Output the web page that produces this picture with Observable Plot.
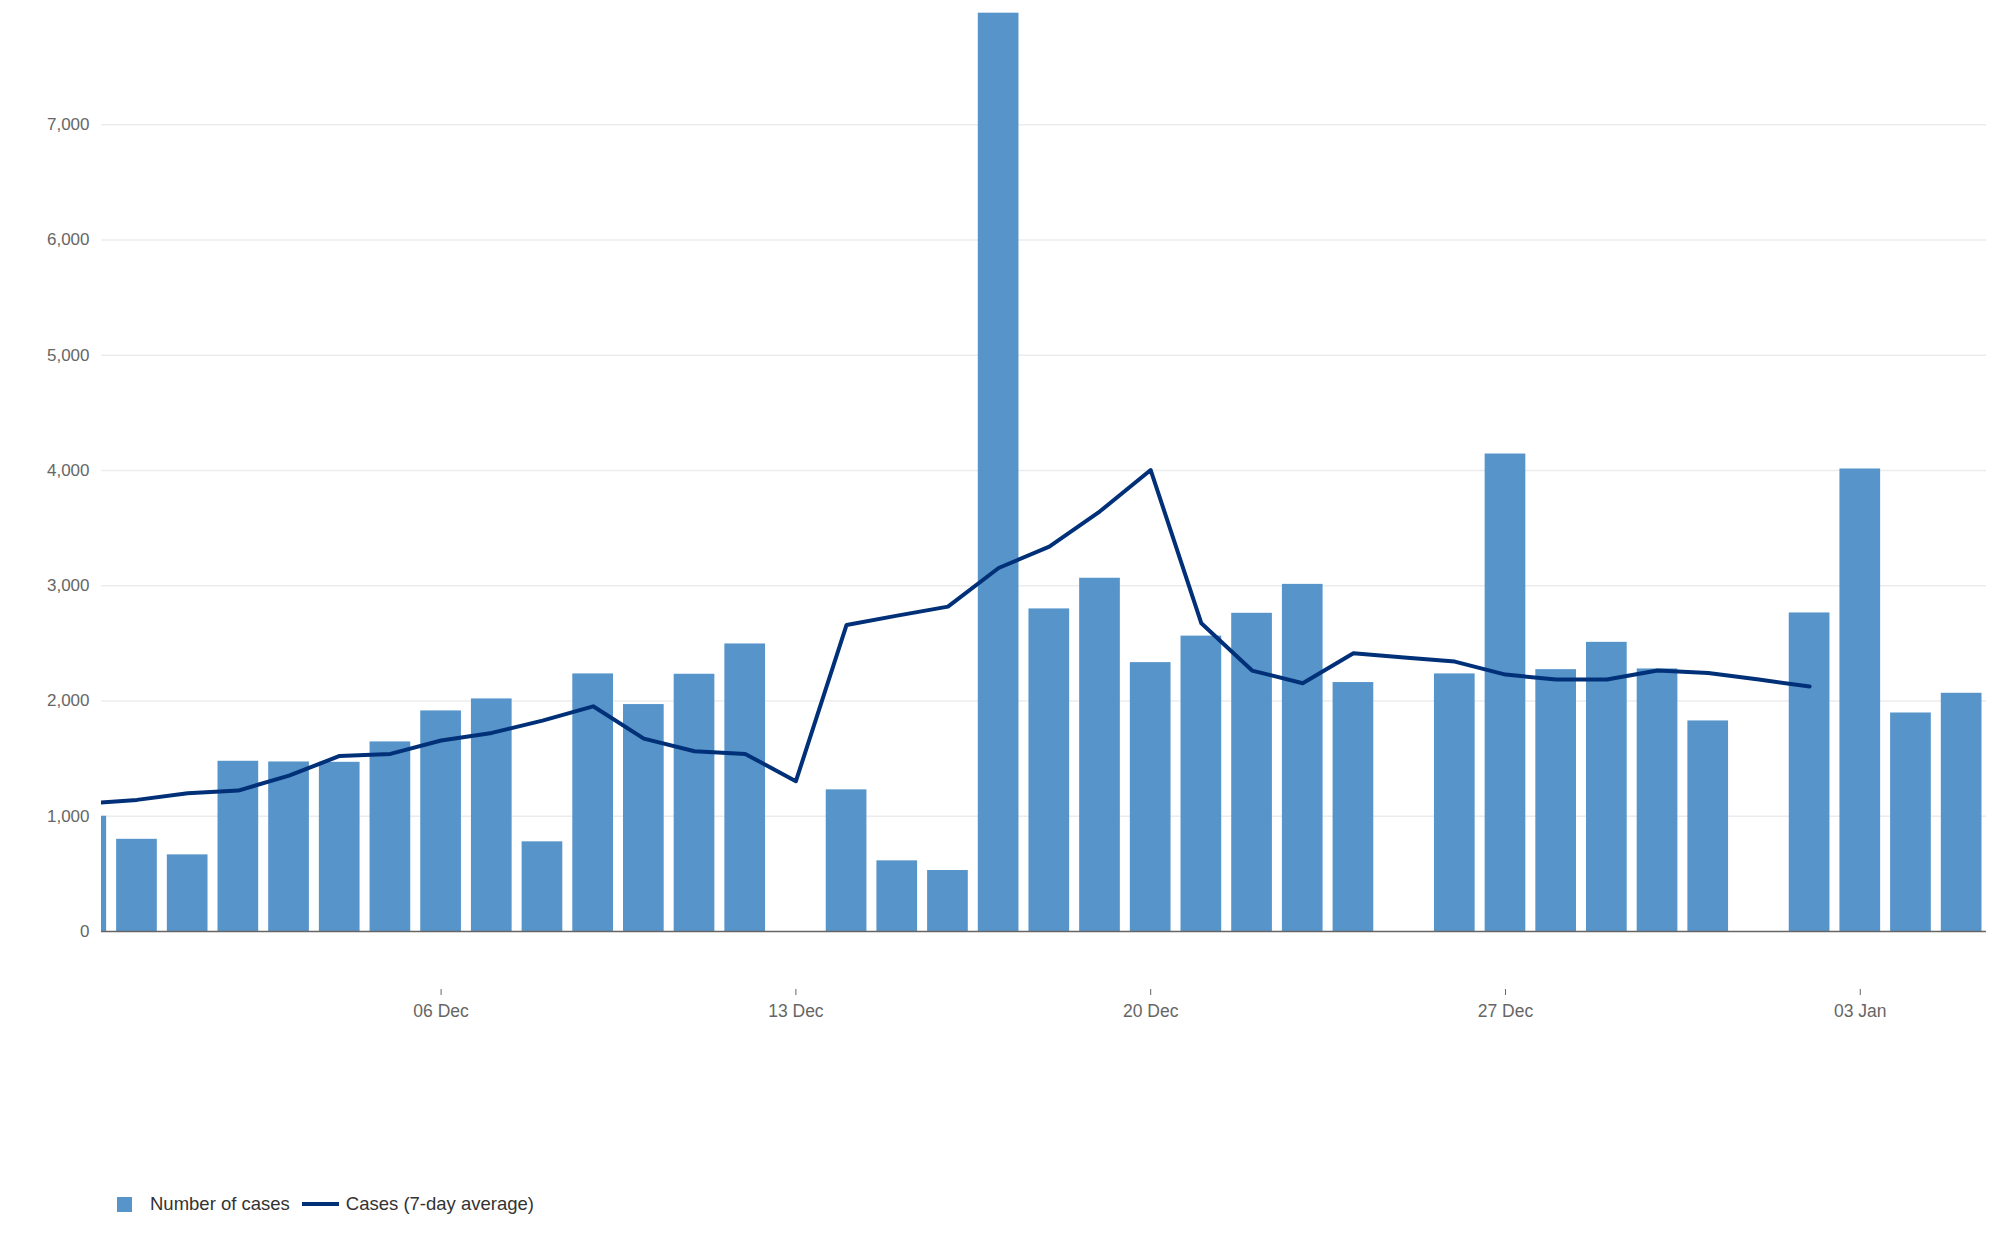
<!DOCTYPE html>
<html>
<head>
<meta charset="utf-8">
<script src="https://cdn.jsdelivr.net/npm/d3@7"></script>
<script src="https://cdn.jsdelivr.net/npm/@observablehq/plot@0.6"></script>
<style>
  body { margin: 0; background: #fff; font-family: "Liberation Sans", Arial, sans-serif; }
  #wrap { position: relative; width: 2000px; height: 1237px; background: #fff; }
  #legend { position: absolute; left: 0; top: 1186px; height: 36px; display: flex; align-items: center; font-size: 18.5px; color: #333; }
  #legend .sq { display: inline-block; width: 15px; height: 15px; background: #5694ca; margin-left: 117px; }
  #legend .ln { display: inline-block; width: 37px; height: 4px; background: #003078; margin-left: 12px; }
  #chart svg g[aria-label="x-axis tick label"] { font-size: 17.5px; }
</style>
</head>
<body>
<div id="wrap">
  <div id="chart"></div>
  <div id="legend">
    <span class="sq"></span><span style="margin-left:18px">Number of cases</span>
    <span class="ln"></span><span style="margin-left:7px">Cases (7-day average)</span>
  </div>
</div>
<script>
const dates = [
  "2020-11-29","2020-11-30","2020-12-01","2020-12-02","2020-12-03","2020-12-04","2020-12-05",
  "2020-12-06","2020-12-07","2020-12-08","2020-12-09","2020-12-10","2020-12-11","2020-12-12",
  "2020-12-13","2020-12-14","2020-12-15","2020-12-16","2020-12-17","2020-12-18","2020-12-19",
  "2020-12-20","2020-12-21","2020-12-22","2020-12-23","2020-12-24","2020-12-25","2020-12-26",
  "2020-12-27","2020-12-28","2020-12-29","2020-12-30","2020-12-31","2021-01-01","2021-01-02",
  "2021-01-03","2021-01-04","2021-01-05"
];
const cases = [
  1000, 800, 665, 1477, 1471, 1468, 1645,
  1914, 2018, 778, 2235, 1969, 2232, 2495,
  null, 1229, 613, 529, 7968, 2799, 3065,
  2333, 2563, 2761, 3012, 2160, null, 2235,
  4143, 2272, 2509, 2278, 1827, null, 2764,
  4013, 1896, 2067
];
const average = [
  1110, 1142, 1200, 1223, 1353, 1523, 1541,
  1657, 1723, 1830, 1954, 1674, 1564, 1541,
  1304, 2660, 2741, 2819, 3154, 3339, 3646,
  4004, 2674, 2264, 2154, 2414, 2378, 2342,
  2229, 2186, 2186, 2264, 2243, 2186, 2125,
  null, null, null
];
const yTicks = [0, 1000, 2000, 3000, 4000, 5000, 6000, 7000];
const xTicks = ["2020-12-06", "2020-12-13", "2020-12-20", "2020-12-27", "2021-01-03"];
const xDomain = ["2020-11-29T07:12Z", "2021-01-05T11:46Z"];

const DAY = 864e5;
const rows = dates.map((d, i) => ({date: new Date(d), cases: cases[i], avg: average[i]}));

const chart = Plot.plot({
  width: 2000,
  height: 1040,
  marginLeft: 101,
  marginRight: 14,
  marginTop: 9,
  marginBottom: 51,
  insetBottom: 58,
  x: {type: "utc", domain: xDomain.map(d => new Date(d))},
  y: {domain: [0, 8000]},
  style: {fontFamily: "'Liberation Sans', Arial, sans-serif", fontSize: "17px", color: "#666", background: "#fff"},
  marks: [
    Plot.ruleY(yTicks.filter(t => t > 0), {stroke: "#ececec", strokeWidth: 1.3}),
    Plot.rectY(rows.filter(d => d.cases != null), {
      x1: d => new Date(+d.date - DAY / 2),
      x2: d => new Date(+d.date + DAY / 2),
      y: "cases",
      fill: "#5694ca",
      insetLeft: 5,
      insetRight: 5,
      clip: true
    }),
    Plot.ruleY([0], {stroke: "#666", strokeWidth: 1.3}),
    Plot.line(rows.filter(d => d.avg != null), {
      x: "date", y: "avg", stroke: "#003078", strokeWidth: 4,
      strokeLinejoin: "round", clip: true
    }),
    Plot.axisY({ticks: yTicks, tickFormat: d3.format(","), tickSize: 0, tickPadding: 12, label: null}),
    Plot.axisX({ticks: xTicks.map(d => new Date(d)), tickFormat: d3.utcFormat("%d %b"), tickSize: 6, tickPadding: 9, label: null, stroke: "#666"})
  ]
});
document.getElementById("chart").appendChild(chart);
</script>
</body>
</html>
